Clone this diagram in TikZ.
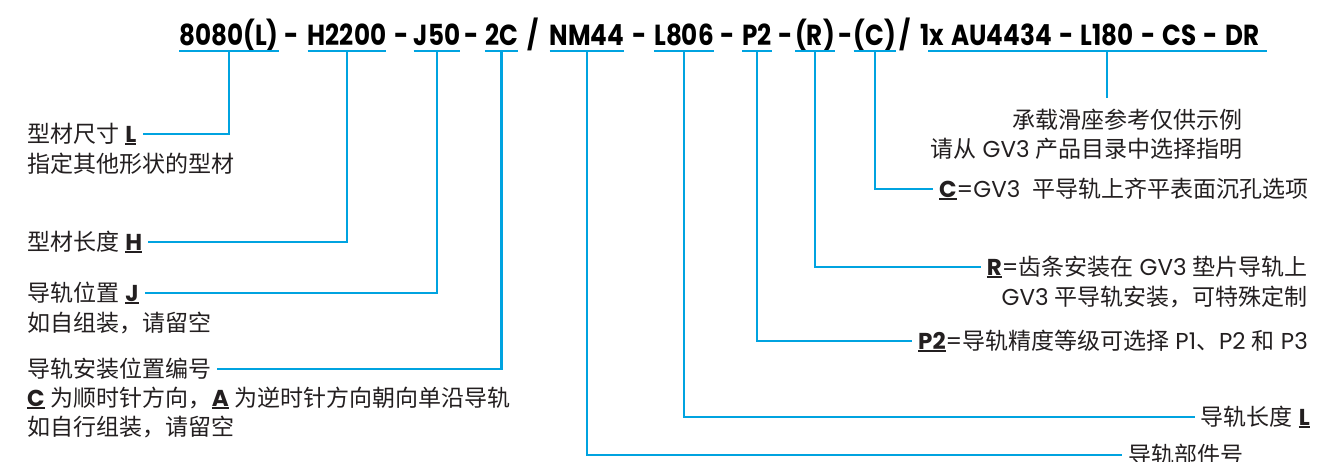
\documentclass[tikz,border=0pt]{standalone}
\usepackage{fontspec}
\setmainfont{Poppins}
\newfontfamily\hdrfont[FakeStretch=0.85]{Poppins}
\newfontfamily\cjk{Noto Sans CJK SC}
\definecolor{linkblue}{RGB}{0,163,224}
\definecolor{ink}{RGB}{35,31,32}
\newsavebox\ubbox
\newcommand\zh[1]{{\cjk #1}}
\newcommand\ubf[1]{\sbox\ubbox{\bfseries #1}\rlap{\rule[-3pt]{\wd\ubbox}{2pt}}\usebox\ubbox}
\tikzset{
  hdr/.style={anchor=base, inner sep=0pt, text=black, font=\hdrfont\bfseries\fontsize{29}{30}\selectfont},
  lbl/.style={inner xsep=6pt, inner ysep=0pt, text=ink, font=\fontsize{23}{30}\selectfont},
  link/.style={draw=linkblue, line width=2.6pt},
  uline/.style={draw=linkblue, line width=2.6pt},
}
\begin{document}
\begin{tikzpicture}[x=1pt,y=-1pt]
\useasboundingbox[fill=white] (0,0) rectangle (1335,461);
% header tokens
\node[hdr] (t1) at (229,45.5) {8080(L)};
\node[hdr] (s1) at (292,45.5) {-};
\node[hdr] (t2) at (347,45.5) {H2200};
\node[hdr] (s2) at (402,45.5) {-};
\node[hdr] (t3) at (437,45.5) {J50};
\node[hdr] (s3) at (472,45.5) {-};
\node[hdr] (t4) at (501.5,45.5) {2C};
\node[hdr] (s4) at (533,45.5) {/};
\node[hdr] (t5) at (587,45.5) {NM44};
\node[hdr] (s5) at (639.5,45.5) {-};
\node[hdr] (t6) at (684,45.5) {L806};
\node[hdr] (s6) at (728,45.5) {-};
\node[hdr] (t7) at (757,45.5) {P2};
\node[hdr] (s7) at (786,45.5) {-};
\node[hdr] (t8) at (815,45.5) {(R)};
\node[hdr] (s8) at (845.5,45.5) {-};
\node[hdr] (t9) at (875,45.5) {(C)};
\node[hdr] (s9) at (905,45.5) {/};
\node[hdr,anchor=base west] (t10) at (920,45.5) {\spaceskip=7.3pt 1x AU4434 - L180 - CS - DR};
% underlines
\foreach \t in {t1,t2,t3,t4,t5,t6,t7,t8,t9}{
  \draw[uline] ([yshift=-5.5pt]\t.base west) -- ([yshift=-5.5pt]\t.base east);
}
\draw[uline] ([yshift=-5.5pt,xshift=8pt]t10.base west) -- ([yshift=-5.5pt,xshift=7pt]t10.base east);
\foreach \i in {1,...,9}{
  \coordinate (c\i) at ([yshift=-5.5pt]t\i.base);
}
\coordinate (c10) at (1107,51);
% left labels
\node[lbl,anchor=west] (l1a) at (21,134) {\zh{型材尺寸} \ubf{L}};
\node[lbl,anchor=west] (l1b) at (21,164) {\zh{指定其他形状的型材}};
\node[lbl,anchor=west] (l2a) at (21,242) {\zh{型材长度} \ubf{H}};
\node[lbl,anchor=west] (l3a) at (21,293) {\zh{导轨位置} \ubf{J}};
\node[lbl,anchor=west] (l3b) at (21,323) {\zh{如自组装，请留空}};
\node[lbl,anchor=west] (l4a) at (21,369) {\zh{导轨安装位置编号}};
\node[lbl,anchor=west] (l4b) at (21,398) {\ubf{C} \zh{为顺时针方向，}\ubf{A} \zh{为逆时针方向朝向单沿导轨}};
\node[lbl,anchor=west] (l4c) at (21,427) {\zh{如自行组装，请留空}};
% right labels
\node[lbl,anchor=east] (r10a) at (1249,120) {\zh{承载滑座参考仅供示例}};
\node[lbl,anchor=east] (r10b) at (1249,149) {\zh{请从} GV3 \zh{产品目录中选择指明}};
\coordinate (r10top) at (1107,98);
\node[lbl,anchor=west] (r9) at (933,189) {\ubf{C}=GV3\ \ \zh{平导轨上齐平表面沉孔选项}};
\node[lbl,anchor=east] (r8a) at (1314,267) {\ubf{R}=\zh{齿条安装在} GV3 \zh{垫片导轨上}};
\node[lbl,anchor=east] (r8b) at (1314,297) {GV3 \zh{平导轨安装，可特殊定制}};
\node[lbl,anchor=east] (r7) at (1314,341) {\ubf{P2}=\zh{导轨精度等级可选择} P1\zh{、}P2 \zh{和} P3};
\node[lbl,anchor=east] (r6) at (1316,417) {\zh{导轨长度} \ubf{L}};
\node[lbl,anchor=west] (r5) at (1122,455) {\zh{导轨部件号}};
% connectors
\draw[link] (c1) |- (l1a.east);
\draw[link] (c2) |- (l2a.east);
\draw[link] (c3) |- (l3a.east);
\draw[link] (c4) |- (l4a.east);
\draw[link] (c5) |- (r5.west);
\draw[link] (c6) |- (r6.west);
\draw[link] (c7) |- (r7.west);
\draw[link] (c8) |- (r8a.west);
\draw[link] (c9) |- (r9.west);
\draw[link] (c10) -- (r10top);
\end{tikzpicture}
\end{document}
